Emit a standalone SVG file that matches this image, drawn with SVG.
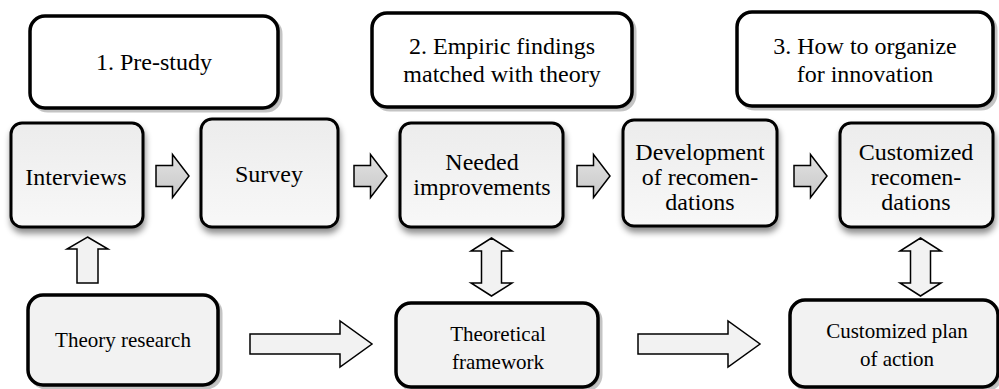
<svg xmlns="http://www.w3.org/2000/svg" width="999" height="389" viewBox="0 0 999 389">
  <defs>
    <style>
      .lbl { font-family: "Liberation Serif", "Times New Roman", serif; fill: #000; text-anchor: middle; }
      .big { font-size: 24px; }
      .small { font-size: 21px; }
      .phase { fill: #fff; stroke: #000; stroke-width: 3.5; }
      .phase-sh { fill: #b0b0b0; stroke: #c4c4c4; stroke-width: 3; }
      .step { fill: url(#stepFill); stroke: #000; stroke-width: 3; filter: url(#soft); }
      .base { fill: #f2f2f2; stroke: #000; stroke-width: 3.5; }
      .flow { fill: url(#flowFill); stroke: #000; stroke-width: 1.5; stroke-linejoin: miter; }
      .link { fill: #f2f2f2; stroke: #000; stroke-width: 1.5; stroke-linejoin: miter; }
    </style>
    <linearGradient id="stepFill" x1="0" y1="0" x2="0" y2="1">
      <stop offset="0" stop-color="#ececec"/>
      <stop offset="1" stop-color="#f8f8f8"/>
    </linearGradient>
    <linearGradient id="flowFill" x1="0" y1="0" x2="0" y2="1">
      <stop offset="0" stop-color="#e2e2e2"/>
      <stop offset="1" stop-color="#c8c8c8"/>
    </linearGradient>
    <filter id="soft" x="-20%" y="-20%" width="140%" height="150%">
      <feDropShadow dx="1" dy="5" stdDeviation="3" flood-color="#000" flood-opacity="0.45"/>
    </filter>
    <!-- small block arrow between process steps -->
    <path id="stepArrow" d="M0,-10.5 H16.5 V-21.5 L33,0 L16.5,21.5 V10.5 H0 Z"/>
    <!-- long block arrow along the bottom row -->
    <path id="longArrow" d="M0,-10 H90 V-23 L122,0 L90,23 V10 H0 Z"/>
    <!-- two-headed vertical block arrow -->
    <path id="twoWay" d="M0,0 L20.5,13 H10 V45 H20.5 L0,58 L-20.5,45 H-10 V13 H-20.5 Z"/>
  </defs>

  <!-- phase headers -->
  <g id="phase1">
    <rect class="phase-sh" x="33" y="19" width="248" height="92" rx="15"/>
    <rect class="phase" x="30" y="16" width="248" height="92" rx="15"/>
    <text class="lbl big" x="154" y="70">1. Pre-study</text>
  </g>
  <g id="phase2">
    <rect class="phase-sh" x="375" y="16" width="260" height="94" rx="15"/>
    <rect class="phase" x="372" y="13" width="260" height="94" rx="15"/>
    <text class="lbl big" x="502" y="54">2. Empiric findings</text>
    <text class="lbl big" x="502" y="82">matched with theory</text>
  </g>
  <g id="phase3">
    <rect class="phase-sh" x="740" y="15" width="256" height="94" rx="15"/>
    <rect class="phase" x="737" y="12" width="256" height="94" rx="15"/>
    <text class="lbl big" x="865" y="54">3. How to organize</text>
    <text class="lbl big" x="865" y="82">for innovation</text>
  </g>

  <!-- process steps -->
  <g id="interviews">
    <rect class="step" x="11" y="123" width="132" height="104" rx="11"/>
    <text class="lbl big" x="76" y="185">Interviews</text>
  </g>
  <g id="survey">
    <rect class="step" x="201" y="119" width="137" height="108" rx="11"/>
    <text class="lbl big" x="269" y="182">Survey</text>
  </g>
  <g id="needed">
    <rect class="step" x="400" y="123" width="163" height="104" rx="11"/>
    <text class="lbl big" x="482" y="170">Needed</text>
    <text class="lbl big" x="482" y="195">improvements</text>
  </g>
  <g id="development">
    <rect class="step" x="623" y="120" width="154" height="106" rx="11"/>
    <text class="lbl big" x="700" y="160">Development</text>
    <text class="lbl big" x="700" y="185">of recomen-</text>
    <text class="lbl big" x="700" y="210">dations</text>
  </g>
  <g id="customized">
    <rect class="step" x="840" y="123" width="153" height="104" rx="11"/>
    <text class="lbl big" x="916" y="160">Customized</text>
    <text class="lbl big" x="916" y="185">recomen-</text>
    <text class="lbl big" x="916" y="210">dations</text>
  </g>

  <!-- theory row -->
  <g id="theoryResearch">
    <rect class="phase-sh" x="31" y="298" width="190" height="90" rx="15"/>
    <rect class="base" x="28" y="295" width="190" height="90" rx="15"/>
    <text class="lbl small" x="123" y="347">Theory research</text>
  </g>
  <g id="framework">
    <rect class="phase-sh" x="399" y="306" width="202" height="84" rx="15"/>
    <rect class="base" x="396" y="303" width="202" height="84" rx="15"/>
    <text class="lbl small" x="498" y="341">Theoretical</text>
    <text class="lbl small" x="498" y="369">framework</text>
  </g>
  <g id="planOfAction">
    <rect class="phase-sh" x="793" y="303" width="208" height="87" rx="15"/>
    <rect class="base" x="790" y="300" width="208" height="87" rx="15"/>
    <text class="lbl small" x="897" y="338">Customized plan</text>
    <text class="lbl small" x="897" y="366">of action</text>
  </g>

  <!-- connectors -->
  <g id="connectors">
    <use href="#stepArrow" class="flow" transform="translate(156,176)"/>
    <use href="#stepArrow" class="flow" transform="translate(354,176)"/>
    <use href="#stepArrow" class="flow" transform="translate(577,176)"/>
    <use href="#stepArrow" class="flow" transform="translate(794,176)"/>

    <path class="link" d="M87.5,237 L108,249 H98 V283 H77 V249 H67 Z"/>

    <use href="#twoWay" class="link" transform="translate(491.5,238)"/>
    <use href="#twoWay" class="link" transform="translate(920.5,238)"/>

    <use href="#longArrow" class="link" transform="translate(250,344)"/>
    <use href="#longArrow" class="link" transform="translate(638,344)"/>
  </g>
</svg>
